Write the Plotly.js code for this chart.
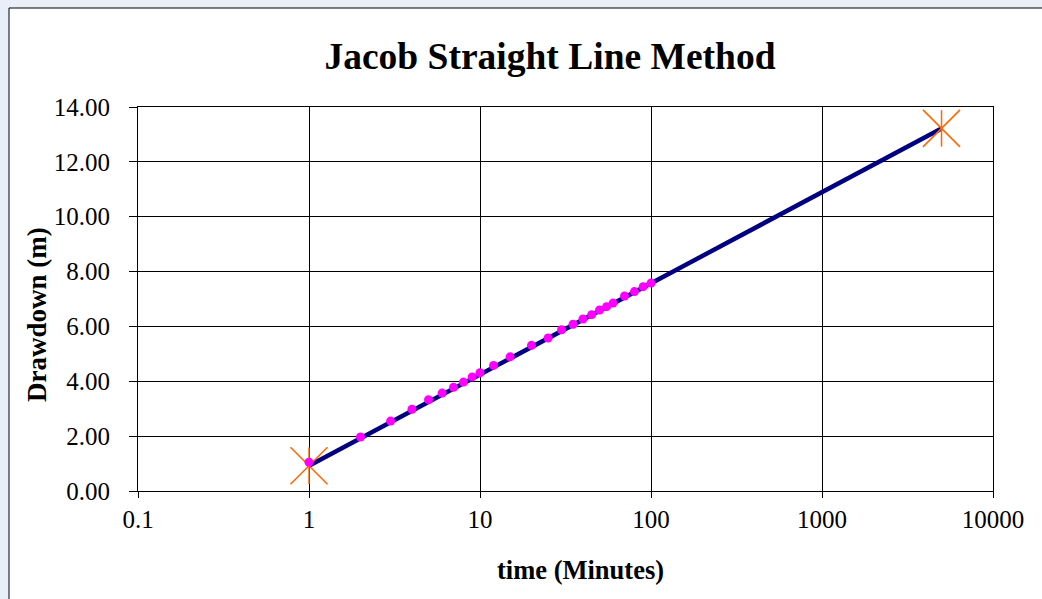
<!DOCTYPE html>
<html>
<head>
<meta charset="utf-8">
<script src="https://cdn.plot.ly/plotly-3.0.1.min.js"></script>
<style>
  html, body { margin: 0; padding: 0; background: #ffffff; }
  #chart { width: 1042px; height: 599px; }
</style>
</head>
<body>
<div id="chart"></div>
<script>
// Observed data (time in minutes, drawdown in m)
const timeMinutes = [1, 2, 3, 4, 5, 6, 7, 8, 9, 10, 12, 15, 20, 25, 30, 35, 40, 45, 50, 55, 60, 70, 80, 90, 100];
const drawdown = [1.05, 1.97, 2.55, 2.98, 3.33, 3.57, 3.78, 3.97, 4.16, 4.31, 4.58, 4.89, 5.31, 5.58, 5.88, 6.08, 6.27, 6.43, 6.60, 6.72, 6.85, 7.11, 7.27, 7.45, 7.58];

// Jacob straight line fit (end points)
const fitTime = [1, 5000];
const fitDrawdown = [0.92, 13.22];

// Axis ticks
const xTickVals = [0.1, 1, 10, 100, 1000, 10000];
const xTickText = ['0.1', '1', '10', '100', '1000', '10000'];
const yTickVals = [0, 2, 4, 6, 8, 10, 12, 14];

const serif = 'Liberation Serif, Times New Roman, serif';

const traces = [
  {
    x: fitTime, y: fitDrawdown, type: 'scatter', mode: 'lines',
    line: { color: '#000080', width: 4.5 }, hoverinfo: 'skip', showlegend: false
  },
  {
    x: fitTime, y: fitDrawdown, type: 'scatter', mode: 'markers',
    marker: { symbol: 'x-thin-open', size: 37, color: '#FF6600', line: { color: '#FF6600', width: 1.5 } },
    showlegend: false
  },
  {
    x: fitTime, y: fitDrawdown, type: 'scatter', mode: 'markers',
    marker: { symbol: 'line-ns-open', size: 26, color: '#FF6600', line: { color: '#FF6600', width: 1.5 } },
    showlegend: false
  },
  {
    x: timeMinutes, y: drawdown, type: 'scatter', mode: 'markers',
    marker: { symbol: 'circle', size: 9, color: '#FF00FF', line: { width: 0 } },
    showlegend: false
  }
];

const layout = {
  width: 1042, height: 599,
  margin: { l: 138, r: 49, t: 107, b: 108 },
  paper_bgcolor: '#e9eff8',
  plot_bgcolor: '#ffffff',
  font: { family: serif, color: '#000000', size: 25 },
  title: {
    text: '<b>Jacob Straight Line Method</b>',
    font: { family: serif, size: 37.5, color: '#000000' },
    x: 550 / 1042, xref: 'container', xanchor: 'center',
    y: 1 - 56 / 599, yref: 'container', yanchor: 'middle'
  },
  xaxis: {
    type: 'log', range: [-1, 4],
    tickmode: 'array', tickvals: xTickVals, ticktext: xTickText,
    ticks: 'outside', ticklen: 6, tickwidth: 1, tickcolor: '#000',
    showgrid: true, gridcolor: '#000000', gridwidth: 1,
    showline: true, linecolor: '#000000', linewidth: 1, mirror: true,
    zeroline: false,
    tickfont: { family: serif, size: 25, color: '#000' }
  },
  yaxis: {
    range: [0, 14],
    tickmode: 'array', tickvals: yTickVals, tickformat: '.2f',
    ticks: 'outside', ticklen: 8, tickwidth: 1, tickcolor: '#000',
    ticklabelstandoff: 14,
    showgrid: true, gridcolor: '#000000', gridwidth: 1,
    showline: true, linecolor: '#000000', linewidth: 1, mirror: true,
    zeroline: false,
    tickfont: { family: serif, size: 25, color: '#000' }
  },
  annotations: [
    {
      text: '<b>time (Minutes)</b>', xref: 'paper', yref: 'paper',
      x: (580 - 138) / 855, y: (491 - 570) / 384, xanchor: 'center', yanchor: 'middle',
      showarrow: false, font: { family: serif, size: 26.5, color: '#000' }
    },
    {
      text: '<b>Drawdown (m)</b>', xref: 'paper', yref: 'paper', textangle: -90,
      x: (37 - 138) / 855, y: (491 - 315) / 384, xanchor: 'center', yanchor: 'middle',
      showarrow: false, font: { family: serif, size: 27, color: '#000' }
    }
  ],
  shapes: [
    {
      type: 'rect', xref: 'paper', yref: 'paper', layer: 'below',
      x0: (9 - 138) / 855, x1: 1.2, y0: -0.5, y1: (491 - 8) / 384,
      fillcolor: '#ffffff', line: { color: '#000000', width: 1 }
    }
  ]
};

Plotly.newPlot('chart', traces, layout, { displayModeBar: false, staticPlot: true });
</script>
</body>
</html>
